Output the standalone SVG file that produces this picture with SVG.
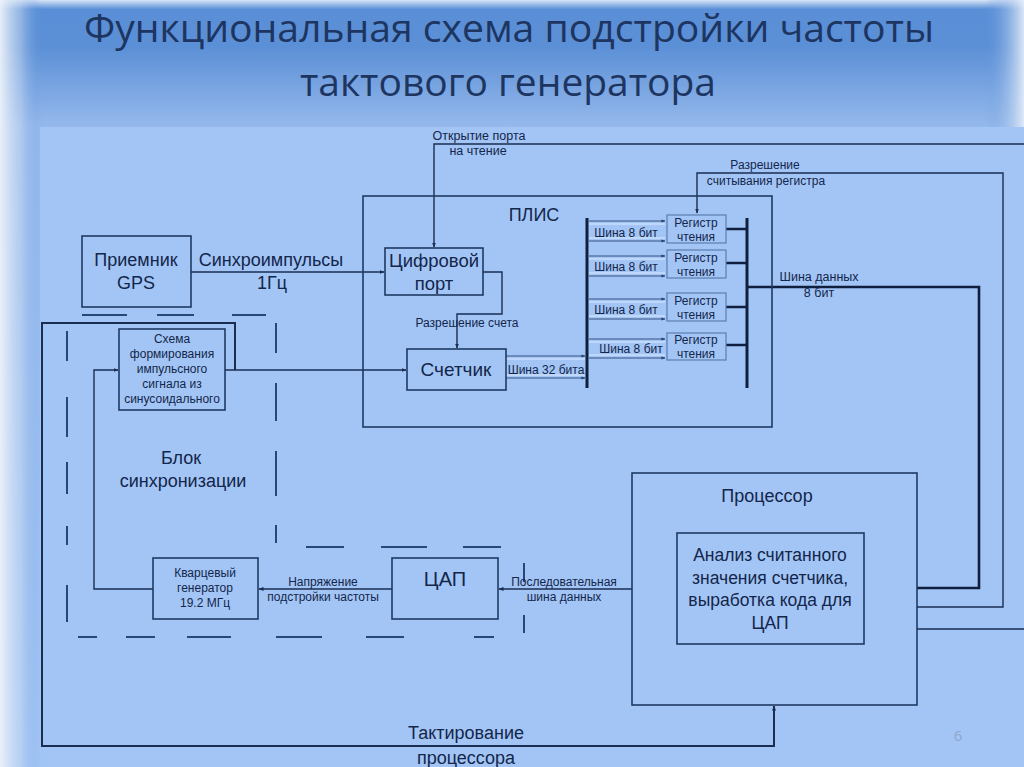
<svg xmlns="http://www.w3.org/2000/svg" width="1024" height="767" viewBox="0 0 1024 767">
<defs>
<linearGradient id="bgV" x1="0" y1="0" x2="0" y2="1">
<stop offset="0" stop-color="#d6e4f6"/>
<stop offset="0.012" stop-color="#5a8fd7"/>
<stop offset="0.06" stop-color="#5b8fd6"/>
<stop offset="0.165" stop-color="#95b9ec"/>
<stop offset="1" stop-color="#a2c5f6"/>
</linearGradient>
<linearGradient id="leftGlow" x1="0" y1="0" x2="1" y2="0">
<stop offset="0" stop-color="#eef3fa" stop-opacity="0.95"/>
<stop offset="0.5" stop-color="#c9daf1" stop-opacity="0.5"/>
<stop offset="1" stop-color="#5f93d9" stop-opacity="0"/>
</linearGradient>
<linearGradient id="rightGlow" x1="1" y1="0" x2="0" y2="0">
<stop offset="0" stop-color="#e8f0fa" stop-opacity="0.9"/>
<stop offset="1" stop-color="#5f93d9" stop-opacity="0"/>
</linearGradient>
<marker id="ah" viewBox="0 0 10 10" refX="9" refY="5" markerWidth="5" markerHeight="5" orient="auto" markerUnits="userSpaceOnUse">
<path d="M0,1 L10,5 L0,9 z" fill="#1a2e52"/>
</marker>
<marker id="ahs" viewBox="0 0 10 10" refX="9" refY="5" markerWidth="4" markerHeight="4" orient="auto" markerUnits="userSpaceOnUse">
<path d="M0,1 L10,5 L0,9 z" fill="#2a4470"/>
</marker>
</defs>
<style>
.box{fill:none;stroke:#1f3a62;stroke-width:1.6}
.reg{fill:none;stroke:#5a7db0;stroke-width:1.2}
.ln{fill:none;stroke:#1a2e52;stroke-width:1.4}
.thick{fill:none;stroke:#0f1f3d;stroke-width:2.6}
.bus{fill:none;stroke:#0f1f3d;stroke-width:3}
.dash{stroke:#27477a;stroke-width:2;fill:none}
.bd{stroke:#2a4470;stroke-width:0.9;fill:none}
.bl{stroke:#dce9fb;stroke-width:1.1;fill:none}
text{font-family:"Liberation Sans",Arial,sans-serif;fill:#14264a;text-anchor:middle}
.t18{font-size:18px}
.t12{font-size:12px}
.t13{font-size:12.5px}
.title{font-family:"Open Sans","Liberation Sans",sans-serif;font-size:39px;fill:#1d3560}
</style>

<rect x="0" y="0" width="1024" height="767" fill="url(#bgV)"/>
<rect x="0" y="0" width="42" height="767" fill="url(#leftGlow)"/>
<rect x="985" y="0" width="39" height="127" fill="url(#rightGlow)"/>
<rect x="40" y="127" width="984" height="640" fill="#a2c5f6"/>

<g id="title">
<text class="title" x="509" y="42" textLength="850" lengthAdjust="spacingAndGlyphs">Функциональная схема подстройки частоты</text>
<text class="title" x="508" y="96" textLength="416" lengthAdjust="spacingAndGlyphs">тактового генератора</text>
</g>

<g id="sync-block-border">
<line class="dash" x1="82" y1="315" x2="127" y2="315"/>
<line class="dash" x1="157" y1="315" x2="194" y2="315"/>
<line class="dash" x1="232" y1="315" x2="266" y2="315"/>
<line class="dash" x1="67" y1="331" x2="67" y2="361"/>
<line class="dash" x1="67" y1="397" x2="67" y2="437"/>
<line class="dash" x1="67" y1="462" x2="67" y2="494"/>
<line class="dash" x1="67" y1="526" x2="67" y2="545"/>
<line class="dash" x1="67" y1="585" x2="67" y2="622"/>
<line class="dash" x1="276" y1="323" x2="276" y2="353"/>
<line class="dash" x1="276" y1="383" x2="276" y2="421"/>
<line class="dash" x1="276" y1="451" x2="276" y2="496"/>
<line class="dash" x1="276" y1="525" x2="276" y2="543"/>
<line class="dash" x1="306" y1="547" x2="344" y2="547"/>
<line class="dash" x1="381" y1="547" x2="427" y2="547"/>
<line class="dash" x1="463" y1="547" x2="501" y2="547"/>
<line class="dash" x1="524" y1="563" x2="524" y2="582"/>
<line class="dash" x1="524" y1="615" x2="524" y2="633"/>
<line class="dash" x1="78" y1="637" x2="97" y2="637"/>
<line class="dash" x1="126" y1="637" x2="155" y2="637"/>
<line class="dash" x1="187" y1="637" x2="231" y2="637"/>
<line class="dash" x1="276" y1="637" x2="322" y2="637"/>
<line class="dash" x1="366" y1="637" x2="404" y2="637"/>
<line class="dash" x1="474" y1="637" x2="494" y2="637"/>
<text class="t18" x="181" y="464">Блок</text>
<text class="t18" x="183" y="487">синхронизации</text>
</g>

<g id="connectors">
<path class="ln" d="M191,272 H384" marker-end="url(#ah)"/>
<path class="ln" d="M483,272 H502 V314 H457 V348" marker-end="url(#ah)"/>
<path class="ln" d="M225,370 H406" marker-end="url(#ah)"/>
<path class="ln" d="M235,370 V323 H42 V746 H774 V706" marker-end="url(#ah)" style="stroke-width:2"/>
<path class="ln" d="M153,589 H94 V370 H118" marker-end="url(#ah)"/>
<path class="ln" d="M392,589 H259" marker-end="url(#ah)"/>
<path class="ln" d="M632,589 H499" marker-end="url(#ah)"/>
<path class="ln" d="M917,629 H1030 V144 H434 V247" marker-end="url(#ah)"/>
<path class="ln" d="M917,607 H1003 V173 H697 V213" marker-end="url(#ah)"/>
<path class="thick" d="M747,287 H979 V588 H917"/>
<line class="bus" x1="587" y1="218" x2="587" y2="388"/>
<line class="bus" x1="747" y1="218" x2="747" y2="388"/>
<path class="thick" d="M726,229 H747 M726,263 H747 M726,307 H747 M726,345 H747"/>
<line class="bl" x1="506" y1="359" x2="585" y2="359"/>
<line class="bd" x1="506" y1="356" x2="585" y2="356" marker-end="url(#ahs)"/>
<line class="bl" x1="506" y1="375" x2="585" y2="375"/>
<line class="bd" x1="506" y1="378" x2="585" y2="378" marker-end="url(#ahs)"/>
<g>
<line class="bd" x1="589" y1="221" x2="665" y2="221" marker-end="url(#ahs)"/>
<line class="bl" x1="589" y1="224" x2="665" y2="224"/>
<line class="bl" x1="589" y1="238" x2="665" y2="238"/>
<line class="bd" x1="589" y1="241" x2="665" y2="241" marker-end="url(#ahs)"/>
<line class="bd" x1="589" y1="256" x2="665" y2="256" marker-end="url(#ahs)"/>
<line class="bl" x1="589" y1="259" x2="665" y2="259"/>
<line class="bl" x1="589" y1="273" x2="665" y2="273"/>
<line class="bd" x1="589" y1="276" x2="665" y2="276" marker-end="url(#ahs)"/>
<line class="bd" x1="589" y1="299" x2="665" y2="299" marker-end="url(#ahs)"/>
<line class="bl" x1="589" y1="302" x2="665" y2="302"/>
<line class="bl" x1="589" y1="316" x2="665" y2="316"/>
<line class="bd" x1="589" y1="319" x2="665" y2="319" marker-end="url(#ahs)"/>
<line class="bd" x1="589" y1="339" x2="665" y2="339" marker-end="url(#ahs)"/>
<line class="bl" x1="589" y1="342" x2="665" y2="342"/>
<line class="bl" x1="589" y1="355" x2="665" y2="355"/>
<line class="bd" x1="589" y1="358" x2="665" y2="358" marker-end="url(#ahs)"/>
</g>
<text class="t13" x="479" y="140">Открытие порта</text>
<text class="t13" x="478" y="155">на чтение</text>
<text class="t12" x="765" y="169">Разрешение</text>
<text class="t12" x="766" y="185">считывания регистра</text>
<text class="t18" x="271" y="266">Синхроимпульсы</text>
<text class="t18" x="272" y="289">1Гц</text>
<text class="t12" x="467" y="327">Разрешение счета</text>
<text class="t12" x="546" y="374">Шина 32 бита</text>
<text class="t12" x="626" y="237">Шина 8 бит</text>
<text class="t12" x="626" y="271">Шина 8 бит</text>
<text class="t12" x="626" y="314">Шина 8 бит</text>
<text class="t12" x="631" y="353">Шина 8 бит</text>
<text class="t13" x="819" y="281">Шина данных</text>
<text class="t13" x="819" y="297">8 бит</text>
<text class="t12" x="323" y="586">Напряжение</text>
<text class="t12" x="323" y="601">подстройки частоты</text>
<text class="t12" x="564" y="586">Последовательная</text>
<text class="t12" x="564" y="601">шина данных</text>
<text class="t18" x="466" y="739">Тактирование</text>
<text class="t18" x="466" y="764">процессора</text>
</g>

<g id="gps">
<rect class="box" x="82" y="236" width="109" height="71"/>
<text class="t18" x="136" y="266">Приемник</text>
<text class="t18" x="136" y="289">GPS</text>
</g>

<g id="plis">
<rect class="box" x="363" y="196" width="409" height="231"/>
<text class="t18" x="534" y="221">ПЛИС</text>
</g>

<g id="digital-port">
<rect class="box" x="385" y="248" width="98" height="47"/>
<text class="t18" x="434" y="267" style="font-size:18.5px">Цифровой</text>
<text class="t18" x="434" y="290" style="font-size:18.5px">порт</text>
</g>

<g id="counter">
<rect class="box" x="407" y="349" width="99" height="41"/>
<text class="t18" x="456" y="376" style="font-size:19px">Счетчик</text>
</g>

<g id="reg1">
<rect class="reg" x="667" y="215" width="59" height="28"/>
<text class="t12" x="696" y="227">Регистр</text>
<text class="t12" x="696" y="241">чтения</text>
</g>
<g id="reg2">
<rect class="reg" x="667" y="250" width="59" height="28"/>
<text class="t12" x="696" y="262">Регистр</text>
<text class="t12" x="696" y="276">чтения</text>
</g>
<g id="reg3">
<rect class="reg" x="667" y="293" width="59" height="28"/>
<text class="t12" x="696" y="305">Регистр</text>
<text class="t12" x="696" y="319">чтения</text>
</g>
<g id="reg4">
<rect class="reg" x="667" y="333" width="59" height="27"/>
<text class="t12" x="696" y="344">Регистр</text>
<text class="t12" x="696" y="358">чтения</text>
</g>

<g id="pulse-shaper">
<rect class="box" x="119" y="329" width="106" height="81"/>
<text class="t12" x="172" y="343">Схема</text>
<text class="t12" x="172" y="358">формирования</text>
<text class="t12" x="172" y="373">импульсного</text>
<text class="t12" x="172" y="388">сигнала из</text>
<text class="t12" x="172" y="403">синусоидального</text>
</g>

<g id="crystal">
<rect class="box" x="153" y="558" width="105" height="61"/>
<text class="t12" x="205" y="577">Кварцевый</text>
<text class="t12" x="205" y="592">генератор</text>
<text class="t12" x="205" y="607">19.2 МГц</text>
</g>

<g id="dac">
<rect class="box" x="392" y="558" width="106" height="61"/>
<text class="t18" x="445" y="586" style="font-size:20px">ЦАП</text>
</g>

<g id="processor">
<rect class="box" x="632" y="473" width="285" height="232"/>
<text class="t18" x="767" y="502">Процессор</text>
<rect class="box" x="677" y="533" width="187" height="111"/>
<text class="t18" x="770" y="561" style="font-size:17.5px">Анализ считанного</text>
<text class="t18" x="770" y="584" style="font-size:17.5px">значения счетчика,</text>
<text class="t18" x="770" y="606" style="font-size:17.5px">выработка кода для</text>
<text class="t18" x="770" y="629" style="font-size:17.5px">ЦАП</text>
</g>

<text x="958" y="741" style="font-family:'Open Sans',sans-serif;font-size:15px;fill:#8ea6c6">6</text>
</svg>
